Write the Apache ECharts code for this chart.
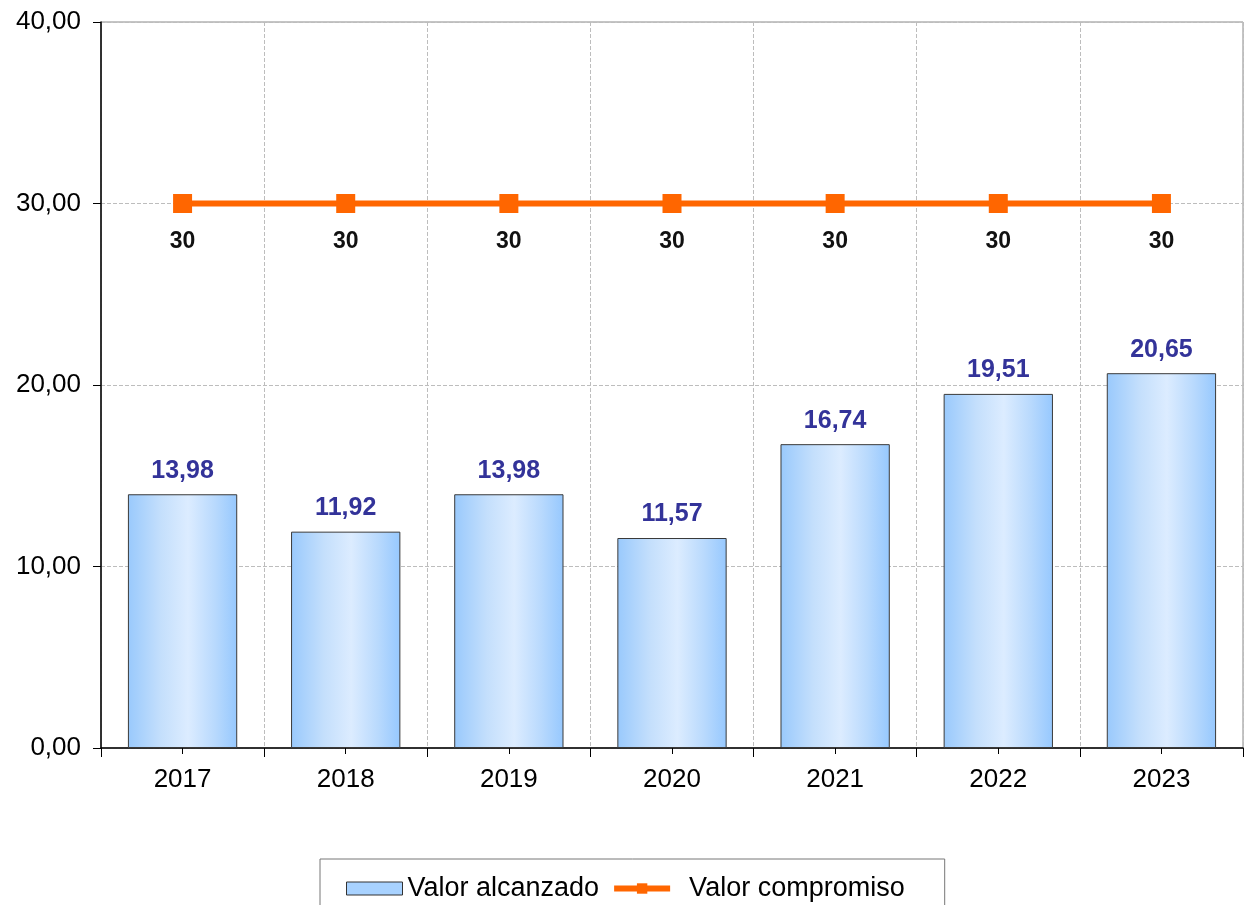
<!DOCTYPE html>
<html>
<head>
<meta charset="utf-8">
<script src="https://cdn.jsdelivr.net/npm/echarts@6/dist/echarts.min.js"></script>
<style>html,body{margin:0;padding:0;background:#fff}#c{width:1244px;height:905px}</style>
</head>
<body>
<div id="c"></div>
<script>
const categories = ['2017','2018','2019','2020','2021','2022','2023'];
const valorAlcanzado = [13.98, 11.92, 13.98, 11.57, 16.74, 19.51, 20.65];
const valorCompromiso = [30, 30, 30, 30, 30, 30, 30];
const yTicks = [0, 10, 20, 30, 40];

const fmt = v => Number(v).toFixed(2).replace('.', ',');
const font = 'Liberation Sans, Arial, sans-serif';

const chart = echarts.init(document.getElementById('c'));
chart.setOption({
  animation: false,
  backgroundColor: '#fff',
  grid: { left: 101, right: 1, top: 22, bottom: 157, show: true, borderColor: '#8a8a8a', borderWidth: 1 },
  legend: {
    top: 859, left: 320,
    itemGap: 12,
    padding: [16, 40, 30, 26],
    borderColor: '#777', borderWidth: 1,
    itemWidth: 56, itemHeight: 13,
    textStyle: { fontFamily: font, fontSize: 27, color: '#000' },
    data: [
      { name: 'Valor alcanzado', icon: 'rect', itemStyle: { color: '#a8d2ff', borderColor: '#333', borderWidth: 1 } },
      { name: 'Valor compromiso', lineStyle: { width: 6, color: '#ff6600' }, textStyle: { padding: [0, 0, 6, 14] } }
    ]
  },
  xAxis: [{
    type: 'category', data: categories,
    axisLine: { lineStyle: { color: '#000', width: 1.5 } },
    axisTick: { show: true, length: 9, lineStyle: { color: '#000' } },
    axisLabel: { fontFamily: font, fontSize: 26, color: '#000', margin: 19 },
    splitLine: { show: true, lineStyle: { type: 'dashed', color: '#bdbdbd' } }
  }, {
    type: 'category', data: categories, position: 'bottom',
    axisLine: { show: false },
    axisTick: { show: true, alignWithLabel: true, length: 6, lineStyle: { color: '#000' } },
    axisLabel: { show: false },
    splitLine: { show: false }
  }],
  yAxis: {
    type: 'value', min: yTicks[0], max: yTicks[yTicks.length - 1], interval: 10,
    axisLine: { show: true, lineStyle: { color: '#000', width: 1.5 } },
    axisTick: { show: true, length: 8, lineStyle: { color: '#000' } },
    axisLabel: { fontFamily: font, fontSize: 26, color: '#000', margin: 20, formatter: fmt },
    splitLine: { show: true, lineStyle: { type: 'dashed', color: '#bdbdbd' } }
  },
  series: [{
    name: 'Valor alcanzado', type: 'bar', data: valorAlcanzado, barWidth: '67%',
    itemStyle: {
      borderColor: '#3a3a3a', borderWidth: 1,
      color: new echarts.graphic.LinearGradient(0, 0, 1, 0, [
        { offset: 0, color: '#99c9fc' },
        { offset: 0.3, color: '#c4dffc' },
        { offset: 0.55, color: '#dcecff' },
        { offset: 0.8, color: '#b8d9fd' },
        { offset: 1, color: '#96c8fe' }
      ])
    },
    label: { show: true, position: 'top', distance: 11, formatter: p => fmt(p.value),
      fontFamily: font, fontSize: 25, fontWeight: 'bold', color: '#333399' }
  }, {
    name: 'Valor compromiso', type: 'line', data: valorCompromiso,
    symbol: 'rect', symbolSize: 19,
    lineStyle: { color: '#ff6600', width: 6 },
    itemStyle: { color: '#ff6600' },
    label: { show: true, position: 'bottom', distance: 17, formatter: p => String(p.value),
      fontFamily: font, fontSize: 23, fontWeight: 'bold', color: '#111' }
  }]
});
</script>
</body>
</html>
